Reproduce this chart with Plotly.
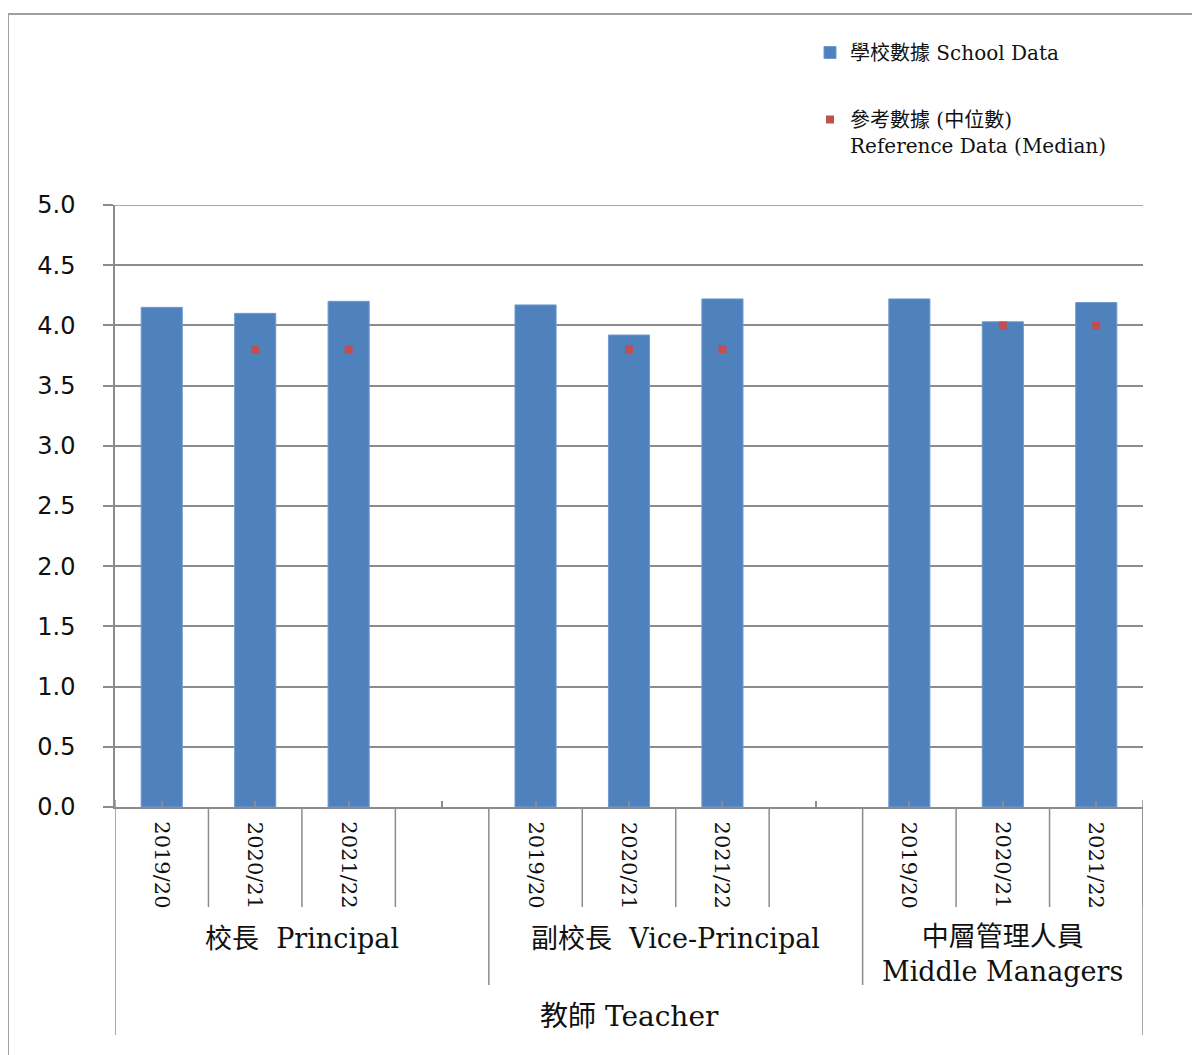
import plotly.graph_objects as go

# ---- data ----
groups = ["校長  Principal", "副校長  Vice-Principal", "中層管理人員<br>Middle Managers"]
years = ["2019/20", "2020/21", "2021/22"]
school_principal = [4.15, 4.10, 4.20]
school_vice = [4.17, 3.92, 4.22]
school_middle = [4.22, 4.03, 4.19]
median_principal = [None, 3.8, 3.8]
median_vice = [None, 3.8, 3.8]
median_middle = [None, 4.0, 4.0]
top_label = "教師 Teacher"
y_ticks = [0, 0.5, 1.0, 1.5, 2.0, 2.5, 3.0, 3.5, 4.0, 4.5, 5.0]
legend_school = "學校數據 School Data"
legend_median = "參考數據 (中位數)<br>Reference Data (Median)"

school = [school_principal, school_vice, school_middle]
median = [median_principal, median_vice, median_middle]

# ---- layout geometry (screen pixels; page body has 8px margin) ----
OFF = 8
W, H = 1200 - OFF, 1055 - OFF
AX_L, AX_R, AX_T, AX_B = 115, 1143, 205, 807   # plot area in screen px
L = AX_L - OFF
R = W - (AX_R - OFF)
T = AX_T - OFF
B = H - (AX_B - OFF)
plot_h = AX_B - AX_T
plot_w = AX_R - AX_L


def py(px):
    return (AX_B - px) / plot_h


def pxx(px):
    return (px - AX_L) / plot_w


# build category slots
cats, xs_bar, ys_bar, xs_med, ys_med = [], [], [], [], []
group_bounds = []
for gi, g in enumerate(groups):
    start = len(cats)
    for yi, yr in enumerate(years):
        c = f"{gi}|{yr}"
        cats.append(c)
        xs_bar.append(c)
        ys_bar.append(school[gi][yi])
        if median[gi][yi] is not None:
            xs_med.append(c)
            ys_med.append(median[gi][yi])
    if gi < len(groups) - 1:
        cats.append(f"{gi}|gap")
    group_bounds.append((start, len(cats)))

GRAY = "#8c8c8c"
SERIF = "DejaVu Serif, Noto Sans CJK TC"

fig = go.Figure()
fig.add_trace(go.Bar(
    x=xs_bar, y=ys_bar, name=legend_school, width=0.44,
    marker=dict(color="#4F81BD", line=dict(color="#6f9ad0", width=1)),
    legendgroup="a",
))
fig.add_trace(go.Scatter(
    x=xs_med, y=ys_med, name=legend_median, mode="markers",
    marker=dict(symbol="square", size=8, color="#C0504D"),
    legendgroup="b",
))

shapes = []
annotations = []
# outer frame (partially cropped)
shapes.append(dict(type="line", xref="paper", yref="paper", x0=pxx(8), x1=pxx(1215),
                   y0=py(14), y1=py(14), line=dict(color="#a0a0a0", width=2)))
shapes.append(dict(type="line", xref="paper", yref="paper", x0=pxx(8), x1=pxx(8),
                   y0=py(14), y1=py(1070), line=dict(color="#a0a0a0", width=2)))
# top gridline at 5.0
shapes.append(dict(type="line", xref="paper", yref="y", x0=pxx(105), x1=1,
                   y0=5, y1=5, line=dict(color=GRAY, width=1.5)))

# category dividers below axis
for gi, (s, e) in enumerate(group_bounds):
    for k in range(s + 1, s + len(years) + 1):
        shapes.append(dict(type="line", xref="x", yref="paper", x0=k - 0.5, x1=k - 0.5,
                           y0=0, y1=py(907), line=dict(color=GRAY, width=1.5)))
    for yi, yr in enumerate(years):
        annotations.append(dict(x=s + yi, y=py(865), xref="x", yref="paper", text=yr,
                                showarrow=False, textangle=90,
                                xanchor="center", yanchor="middle",
                                font=dict(family=SERIF, size=21, color="#111")))
    two = "<br>" in groups[gi]
    annotations.append(dict(x=(s + e - 1) / 2, y=py(954) if two else py(938),
                            xref="x", yref="paper", text=groups[gi], showarrow=False,
                            xanchor="center", yanchor="middle",
                            font=dict(family=SERIF, size=27, color="#111")))
n = len(cats)
for gi, (s, e) in enumerate(group_bounds):
    if s > 0:
        shapes.append(dict(type="line", xref="x", yref="paper", x0=s - 0.5, x1=s - 0.5,
                           y0=0, y1=py(985), line=dict(color=GRAY, width=1.5)))
for xb in (-0.5, n - 0.5):
    shapes.append(dict(type="line", xref="x", yref="paper", x0=xb, x1=xb,
                       y0=py(800), y1=py(1035), line=dict(color=GRAY, width=1.5)))
annotations.append(dict(x=(n - 1) / 2, y=py(1016), xref="x", yref="paper", text=top_label,
                        showarrow=False, xanchor="center", yanchor="middle",
                        font=dict(family=SERIF, size=28, color="#111")))

fig.update_layout(
    width=W, height=H,
    margin=dict(l=L, r=R, t=T, b=B),
    paper_bgcolor="white", plot_bgcolor="white",
    showlegend=True,
    legend=dict(x=pxx(810), y=py(33), xanchor="left", yanchor="top",
                font=dict(family=SERIF, size=20, color="#111"),
                tracegroupgap=38, valign="top", bgcolor="rgba(0,0,0,0)",
                itemwidth=30),
    shapes=shapes,
    annotations=annotations,
    xaxis=dict(type="category", categoryorder="array", categoryarray=cats,
               range=[-0.5, n - 0.5], showticklabels=False,
               ticks="inside", ticklen=6, tickwidth=1.5, tickcolor=GRAY,
               showline=True, linecolor=GRAY, linewidth=1.5, showgrid=False,
               zeroline=False, fixedrange=True),
    yaxis=dict(range=[0, 5], tickvals=y_ticks, ticktext=[f"{v:.1f}" for v in y_ticks],
               showgrid=True, gridcolor=GRAY, gridwidth=1.5,
               showline=True, linecolor=GRAY, linewidth=1.5,
               ticks="outside", ticklen=10, tickwidth=1.5, tickcolor=GRAY,
               ticklabelstandoff=23, zeroline=False,
               tickfont=dict(family="DejaVu Sans", size=24, color="#111")),
)

fig.write_html("out.html")
